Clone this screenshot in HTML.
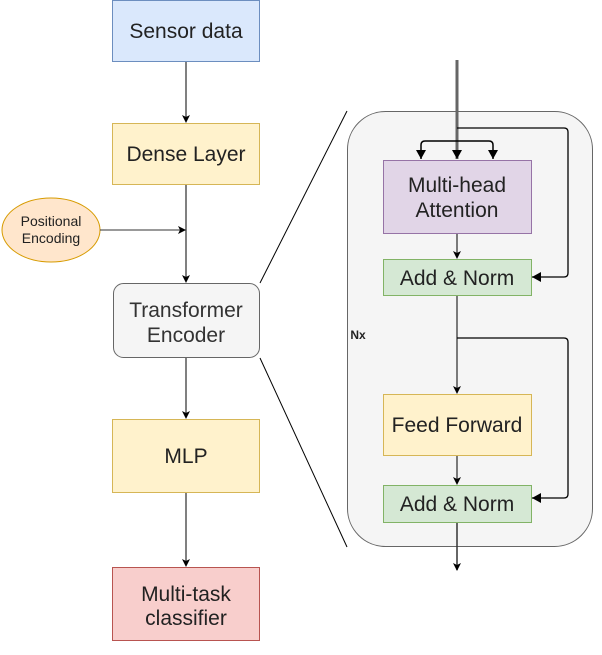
<!DOCTYPE html>
<html><head><meta charset="utf-8"><style>
html,body{margin:0;padding:0;background:#fff;}
svg text{font-family:"Liberation Sans",sans-serif;fill:#222;text-anchor:middle;}
</style></head><body>
<svg width="602" height="650" viewBox="0 0 602 650" xmlns="http://www.w3.org/2000/svg">
<defs>
<marker id="a" markerWidth="8" markerHeight="8" refX="7" refY="4" orient="auto" markerUnits="userSpaceOnUse">
<path d="M0,0 L8,4 L0,8 L2,4 Z" fill="#000"/></marker>
</defs>
<rect x="112.5" y="0.5" width="147" height="61" fill="#dae8fc" stroke="#6c8ebf"/>
<text x="186" y="38" font-size="21">Sensor data</text>
<line x1="186" y1="62" x2="186" y2="122" stroke="#000" marker-end="url(#a)"/>
<rect x="112.5" y="123.5" width="147" height="61" fill="#fff2cc" stroke="#d6b656"/>
<text x="186" y="161" font-size="21">Dense Layer</text>
<line x1="186" y1="185" x2="186" y2="282" stroke="#000" marker-end="url(#a)"/>
<ellipse cx="51" cy="230" rx="49" ry="32" fill="#ffe6cc" stroke="#d79b00"/>
<text x="51" y="226" font-size="14">Positional</text>
<text x="51" y="243" font-size="14">Encoding</text>
<line x1="100" y1="230" x2="185" y2="230" stroke="#333" marker-end="url(#a)"/>
<rect x="113.5" y="283.5" width="146" height="74" rx="10" fill="#f5f5f5" stroke="#666"/>
<text x="186" y="317" font-size="21" style="fill:#333">Transformer</text>
<text x="186" y="342" font-size="21" style="fill:#333">Encoder</text>
<line x1="186" y1="358" x2="186" y2="418" stroke="#000" marker-end="url(#a)"/>
<rect x="112.5" y="419.5" width="147" height="73" fill="#fff2cc" stroke="#d6b656"/>
<text x="186" y="463" font-size="21">MLP</text>
<line x1="186" y1="493" x2="186" y2="566" stroke="#000" marker-end="url(#a)"/>
<rect x="112.5" y="567.5" width="147" height="73" fill="#f8cecc" stroke="#b85450"/>
<text x="186" y="601" font-size="21">Multi-task</text>
<text x="186" y="625" font-size="21">classifier</text>
<line x1="260" y1="283" x2="347" y2="111" stroke="#000"/>
<line x1="260" y1="358" x2="347" y2="547" stroke="#000"/>
<rect x="347.5" y="111.5" width="245" height="435" rx="38" fill="#f5f5f5" stroke="#666"/>
<text x="358" y="339" font-size="12" font-weight="bold">Nx</text>
<line x1="457" y1="60" x2="457" y2="159" stroke="#666" stroke-width="3"/>
<path d="M457,159 l-5,-9 h10 z" fill="#000"/>
<path d="M421,159 V145 Q421,141 425,141 H489 Q493,141 493,145 V159" fill="none" stroke="#000" stroke-width="1.5"/>
<path d="M421,159 l-5,-9 h10 z M493,159 l-5,-9 h10 z" fill="#000"/>
<path d="M457,128 H564 Q568,128 568,132 V273 Q568,277 564,277 H532" fill="none" stroke="#000" stroke-width="1.3"/>
<path d="M532,277 l9,-5 v10 z" fill="#000"/>
<rect x="383.5" y="160.5" width="148" height="73" fill="#e1d5e7" stroke="#9673a6"/>
<text x="457" y="192" font-size="21">Multi-head</text>
<text x="457" y="217" font-size="21">Attention</text>
<line x1="457" y1="234" x2="457" y2="258" stroke="#000" marker-end="url(#a)"/>
<rect x="383.5" y="259.5" width="148" height="36" fill="#d5e8d4" stroke="#82b366"/>
<text x="457" y="285" font-size="21">Add &amp; Norm</text>
<line x1="457" y1="296" x2="457" y2="393" stroke="#000" marker-end="url(#a)"/>
<path d="M457,338 H564 Q568,338 568,342 V494 Q568,498 564,498 H532" fill="none" stroke="#000" stroke-width="1.3"/>
<path d="M532,498 l9,-5 v10 z" fill="#000"/>
<rect x="383.5" y="394.5" width="148" height="61" fill="#fff2cc" stroke="#d6b656"/>
<text x="457" y="432" font-size="21">Feed Forward</text>
<line x1="457" y1="456" x2="457" y2="484" stroke="#000" marker-end="url(#a)"/>
<rect x="383.5" y="485.5" width="148" height="37" fill="#d5e8d4" stroke="#82b366"/>
<text x="457" y="511" font-size="21">Add &amp; Norm</text>
<line x1="457" y1="523" x2="457" y2="570" stroke="#333" stroke-width="1.5" marker-end="url(#a)"/>
</svg>
</body></html>
